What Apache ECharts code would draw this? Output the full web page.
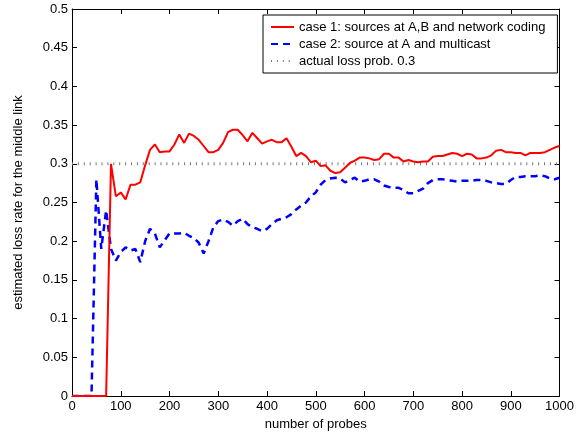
<!DOCTYPE html>
<html>
<head>
<meta charset="utf-8">
<script src="https://cdn.jsdelivr.net/npm/echarts@6/dist/echarts.min.js"></script>
<style>
  html, body { margin: 0; padding: 0; background: #fff; }
  #chart { width: 577px; height: 436px; }
</style>
</head>
<body>
<div id="chart"></div>
<script>
// Number of probes, sampled every 10
var probes = [];
for (var p = 0; p <= 1000; p += 10) probes.push(p);

// case 1: sources at A,B and network coding
var case1 = [
  0, 0, 0, 0, 0, 0, 0, 0, 0.300, 0.258,
  0.263, 0.254, 0.273, 0.273, 0.276, 0.298, 0.318, 0.325, 0.315, 0.316,
  0.316, 0.325, 0.338, 0.327, 0.339, 0.336, 0.331, 0.323, 0.315, 0.315,
  0.318, 0.327, 0.341, 0.344, 0.344, 0.337, 0.329, 0.340, 0.333, 0.326,
  0.329, 0.331, 0.328, 0.328, 0.333, 0.322, 0.310, 0.314, 0.310, 0.302,
  0.304, 0.297, 0.298, 0.291, 0.288, 0.289, 0.295, 0.301, 0.304, 0.308,
  0.308, 0.307, 0.305, 0.306, 0.313, 0.313, 0.308, 0.308, 0.303, 0.305,
  0.303, 0.302, 0.303, 0.303, 0.309, 0.310, 0.310, 0.312, 0.314, 0.313,
  0.310, 0.313, 0.312, 0.307, 0.307, 0.308, 0.311, 0.317, 0.318, 0.315,
  0.315, 0.314, 0.314, 0.311, 0.314, 0.314, 0.314, 0.315, 0.318, 0.321,
  0.323
];

// case 2: source at A and multicast
var case2 = [
  0, 0, 0, 0, 0, 0.280, 0.190, 0.240, 0.190, 0.175,
  0.186, 0.192, 0.188, 0.190, 0.173, 0.200, 0.216, 0.210, 0.192, 0.201,
  0.210, 0.210, 0.210, 0.211, 0.207, 0.204, 0.198, 0.184, 0.200, 0.218,
  0.226, 0.228, 0.225, 0.220, 0.226, 0.229, 0.222, 0.218, 0.216, 0.213,
  0.216, 0.222, 0.227, 0.229, 0.231, 0.235, 0.241, 0.246, 0.250, 0.258,
  0.263, 0.273, 0.279, 0.281, 0.282, 0.281, 0.276, 0.279, 0.282, 0.277,
  0.278, 0.280, 0.280, 0.277, 0.272, 0.270, 0.269, 0.269, 0.266, 0.262,
  0.262, 0.265, 0.268, 0.275, 0.279, 0.280, 0.280, 0.279, 0.278, 0.277,
  0.278, 0.278, 0.278, 0.279, 0.279, 0.278, 0.276, 0.275, 0.274, 0.274,
  0.279, 0.283, 0.283, 0.284, 0.284, 0.284, 0.285, 0.284, 0.281, 0.280,
  0.282
];

// actual loss probability
var actualLoss = 0.3;
var xRange = [0, 1000];

var seriesNames = [
  'case 1: sources at A,B and network coding',
  'case 2: source at A and multicast',
  'actual loss prob. 0.3'
];

function pairs(xs, ys) {
  return xs.map(function (x, i) { return [x, ys[i]]; });
}

var FONT = 'Liberation Sans, Arial, sans-serif';
var FS = 13;

var chart = echarts.init(document.getElementById('chart'), null, { renderer: 'canvas' });

var tickStyle = { show: true, inside: true, length: 5, lineStyle: { color: '#000', width: 1 } };
var lineStyleAxis = { show: true, onZero: false, lineStyle: { color: '#000', width: 1 } };

chart.setOption({
  animation: false,
  backgroundColor: '#fff',
  grid: { left: 72, right: 14, top: 9, bottom: 38, containLabel: false },
  legend: {
    orient: 'vertical',
    left: 263,
    top: 15,
    padding: [5, 12, 5, 7],
    itemGap: 3,
    itemWidth: 23,
    itemHeight: 14,
    borderColor: '#000',
    borderWidth: 1,
    backgroundColor: '#fff',
    itemStyle: { opacity: 0 },
    textStyle: { fontFamily: FONT, fontSize: FS, color: '#000', lineHeight: 14 },
    data: seriesNames
  },
  xAxis: [{
    type: 'value', min: 0, max: 1000, interval: 100, position: 'bottom',
    name: 'number of probes', nameLocation: 'middle', nameGap: 22,
    nameTextStyle: { fontFamily: FONT, fontSize: FS, color: '#000' },
    axisLine: lineStyleAxis, axisTick: tickStyle,
    axisLabel: {
      fontFamily: FONT, fontSize: FS, color: '#000', margin: 4,
      formatter: function (v) { return String(v); }
    },
    splitLine: { show: false }
  }, {
    type: 'value', min: 0, max: 1000, interval: 100, position: 'top',
    axisLine: lineStyleAxis, axisTick: tickStyle,
    axisLabel: { show: false }, splitLine: { show: false }
  }],
  yAxis: [{
    type: 'value', min: 0, max: 0.5, interval: 0.05, position: 'left',
    name: 'estimated loss rate for the middle link', nameLocation: 'middle', nameGap: 47,
    nameTextStyle: { fontFamily: FONT, fontSize: FS, color: '#000' },
    axisLine: lineStyleAxis, axisTick: tickStyle,
    axisLabel: {
      fontFamily: FONT, fontSize: FS, color: '#000', margin: 4,
      formatter: function (v) { return String(Math.round(v * 100) / 100); }
    },
    splitLine: { show: false }
  }, {
    type: 'value', min: 0, max: 0.5, interval: 0.05, position: 'right',
    axisLine: lineStyleAxis, axisTick: tickStyle,
    axisLabel: { show: false }, splitLine: { show: false }
  }],
  series: [{
    name: seriesNames[0],
    type: 'line',
    symbol: 'none',
    z: 3,
    data: pairs(probes, case1),
    lineStyle: { color: '#ff0000', width: 2 },
    itemStyle: { color: '#ff0000' }
  }, {
    name: seriesNames[1],
    type: 'line',
    symbol: 'none',
    z: 2,
    data: pairs(probes, case2),
    lineStyle: { color: '#0000ff', width: 2.5, type: [7, 5] },
    itemStyle: { color: '#0000ff' }
  }, {
    name: seriesNames[2],
    type: 'line',
    symbol: 'none',
    z: 1,
    data: [[xRange[0], actualLoss], [xRange[1], actualLoss]],
    lineStyle: { color: '#777', width: 3, type: [1, 4.9] },
    itemStyle: { color: '#777' }
  }]
});
</script>
</body>
</html>
